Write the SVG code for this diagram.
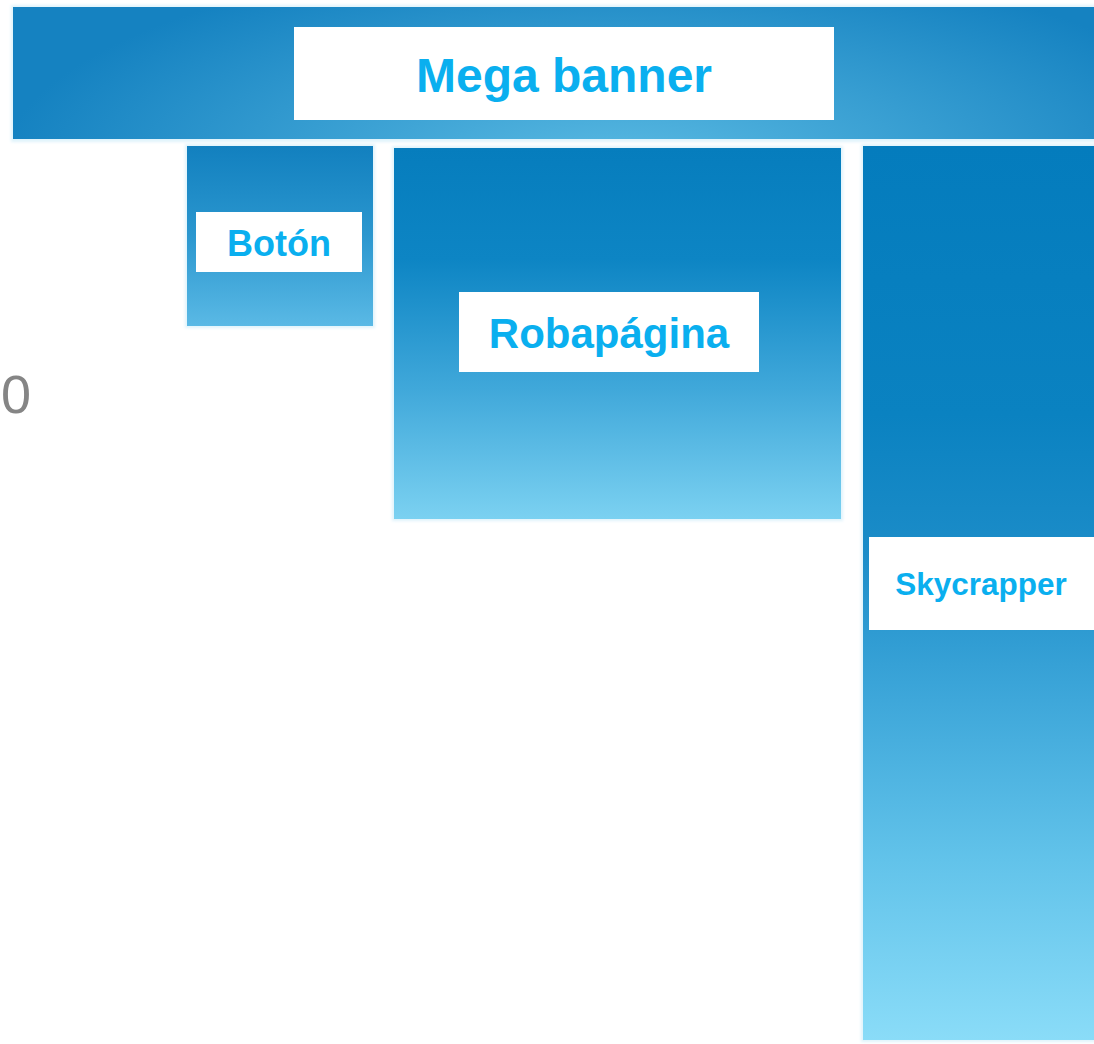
<svg xmlns="http://www.w3.org/2000/svg" width="1094" height="1044" viewBox="0 0 1094 1044">
<defs>
<radialGradient id="gMega" gradientUnits="userSpaceOnUse" cx="620" cy="170" r="620" gradientTransform="translate(620 170) scale(1 0.35) translate(-620 -170)">
<stop offset="0" stop-color="#5bbbe3"/>
<stop offset="1" stop-color="#1582c1"/>
</radialGradient>
<linearGradient id="gBoton" x1="0" y1="0" x2="0" y2="1">
<stop offset="0" stop-color="#1280bf"/>
<stop offset="0.5" stop-color="#2b97cf"/>
<stop offset="1" stop-color="#5ab9e5"/>
</linearGradient>
<linearGradient id="gRoba" x1="0" y1="0" x2="0" y2="1">
<stop offset="0" stop-color="#067dbd"/>
<stop offset="0.3" stop-color="#0d85c4"/>
<stop offset="0.65" stop-color="#40a8da"/>
<stop offset="1" stop-color="#7bd1f1"/>
</linearGradient>
<linearGradient id="gSky" x1="0" y1="0" x2="0" y2="1">
<stop offset="0" stop-color="#047cbd"/>
<stop offset="0.3" stop-color="#0a82c1"/>
<stop offset="0.45" stop-color="#1b8cc8"/>
<stop offset="0.6" stop-color="#3aa4d8"/>
<stop offset="0.8" stop-color="#62c3ea"/>
<stop offset="1" stop-color="#8adcf8"/>
</linearGradient>
<filter id="soft" x="-5%" y="-5%" width="110%" height="110%">
<feGaussianBlur stdDeviation="1.5"/>
</filter>
</defs>
<style>
.lbl{font-family:"Liberation Sans",Arial,sans-serif;font-weight:bold;fill:#0aafef;text-anchor:middle}
.box{fill:#ffffff}
.glow{fill:#dff3fb;filter:url(#soft)}
</style>
<rect width="1094" height="1044" fill="#ffffff"/>
<text x="1" y="413" font-family="Liberation Sans, Arial, sans-serif" font-size="54" fill="#858585">0</text>
<g id="mega-banner">
<rect class="glow" x="11" y="5" width="1090" height="137"/>
<rect x="13" y="7" width="1081" height="132" fill="url(#gMega)"/>
<rect class="box" x="294" y="27" width="540" height="93"/>
<text class="lbl" x="564" y="92" font-size="48">Mega banner</text>
</g>
<g id="boton">
<rect class="glow" x="185" y="144" width="190" height="184"/>
<rect x="187" y="146" width="186" height="180" fill="url(#gBoton)"/>
<rect class="box" x="196" y="212" width="166" height="60"/>
<text class="lbl" x="279" y="256" font-size="36">Botón</text>
</g>
<g id="robapagina">
<rect class="glow" x="392" y="146" width="451" height="375"/>
<rect x="394" y="148" width="447" height="371" fill="url(#gRoba)"/>
<rect class="box" x="459" y="292" width="300" height="80"/>
<text class="lbl" x="609" y="348" font-size="42">Robapágina</text>
</g>
<g id="skycrapper">
<rect class="glow" x="861" y="144" width="240" height="898"/>
<rect x="863" y="146" width="231" height="894" fill="url(#gSky)"/>
<rect class="box" x="869" y="537" width="225" height="93"/>
<text class="lbl" x="981" y="595" font-size="31.5">Skycrapper</text>
</g>
<g id="connectors"></g>
</svg>
